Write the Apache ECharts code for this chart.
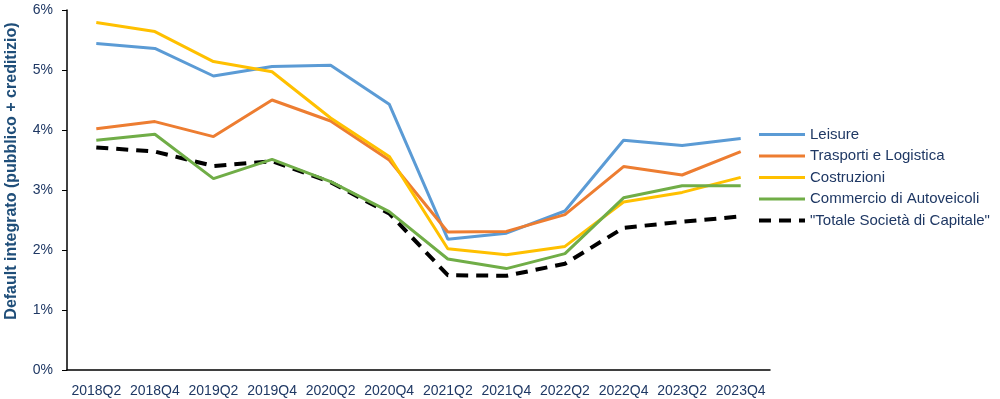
<!DOCTYPE html>
<html>
<head>
<meta charset="utf-8">
<script src="https://cdn.jsdelivr.net/npm/echarts@6/dist/echarts.min.js"></script>
<style>
  html, body { margin: 0; padding: 0; background: #fff; }
  #chart { width: 1000px; height: 399px; }
</style>
</head>
<body>
<div id="chart"></div>
<script>
// dati (valori in %)
const quarters = ['2018Q2', '2018Q4', '2019Q2', '2019Q4', '2020Q2', '2020Q4',
  '2021Q2', '2021Q4', '2022Q2', '2022Q4', '2023Q2', '2023Q4']
const leisure = [5.44, 5.36, 4.90, 5.06, 5.08, 4.43, 2.18, 2.28, 2.65, 3.83, 3.74, 3.86]
const trasporti = [4.02, 4.14, 3.89, 4.50, 4.15, 3.50, 2.30, 2.31, 2.59, 3.39, 3.25, 3.64]
const costruzioni = [5.79, 5.64, 5.14, 4.97, 4.20, 3.56, 2.02, 1.92, 2.06, 2.80, 2.96, 3.21]
const commercio = [3.83, 3.93, 3.19, 3.51, 3.14, 2.64, 1.85, 1.69, 1.94, 2.87, 3.07, 3.07]
const totale = [3.71, 3.64, 3.40, 3.48, 3.13, 2.61, 1.58, 1.57, 1.77, 2.37, 2.47, 2.56]
const yTicks = [0, 1, 2, 3, 4, 5, 6]

const navy = '#1f3864'
const font = 'Liberation Sans, Arial, sans-serif'

let myChart = echarts.init(document.getElementById('chart'))

function lineSerie(name, data, color, extra) {
  return Object.assign({
    name: name,
    type: 'line',
    data: data,
    symbol: 'none',
    lineStyle: { color: color, width: 3 },
    itemStyle: { color: color },
    z: 2
  }, extra || {})
}

let option = {
  animation: false,
  textStyle: { fontFamily: font },
  grid: { left: 67, top: 10, width: 703, bottom: 29 },
  legend: {
    orient: 'vertical',
    left: 752,
    top: 122,
    itemWidth: 46,
    itemHeight: 12,
    itemGap: 6.5,
    itemStyle: { opacity: 0 },
    lineStyle: { width: 3 },
    textStyle: { color: navy, fontSize: 15, fontFamily: font },
    data: [
      'Leisure',
      'Trasporti e Logistica',
      'Costruzioni',
      'Commercio di Autoveicoli',
      { name: '"Totale Società di Capitale"', lineStyle: { width: 4 } }
    ]
  },
  graphic: [{
    type: 'text',
    x: 12,
    y: 171,
    rotation: Math.PI / 2,
    style: {
      text: 'Default integrato (pubblico + creditizio)',
      fill: '#1f4e79',
      font: 'bold 16px ' + font,
      align: 'center',
      verticalAlign: 'middle'
    }
  }],
  xAxis: {
    type: 'category',
    data: quarters,
    boundaryGap: true,
    axisLine: { lineStyle: { color: '#000', width: 1.5 } },
    axisTick: { alignWithLabel: true, length: 5, lineStyle: { color: '#000' } },
    axisLabel: { color: navy, fontSize: 14, margin: 14, interval: 0 }
  },
  yAxis: {
    type: 'value',
    min: yTicks[0],
    max: yTicks[yTicks.length - 1],
    interval: 1,
    splitLine: { show: false },
    axisLine: { show: true, lineStyle: { color: '#000', width: 1.5 } },
    axisTick: { show: true, length: 5, lineStyle: { color: '#000' } },
    axisLabel: { color: navy, fontSize: 14, margin: 14, formatter: '{value}%' }
  },
  series: [
    lineSerie('Leisure', leisure, '#5b9bd5'),
    lineSerie('Trasporti e Logistica', trasporti, '#ed7d31'),
    lineSerie('Costruzioni', costruzioni, '#ffc000'),
    lineSerie('Commercio di Autoveicoli', commercio, '#70ad47'),
    lineSerie('"Totale Società di Capitale"', totale, '#000', {
      lineStyle: { color: '#000', width: 4, type: [12, 8] },
      z: 1
    })
  ]
}

option && myChart.setOption(option)
</script>
</body>
</html>
